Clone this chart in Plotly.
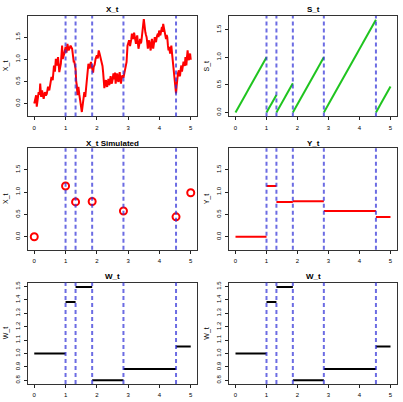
import plotly.graph_objects as go

# ---------------- data ----------------
tau = [1.0, 1.32, 1.85, 2.85, 4.53]          # jump times
t_end = 5.0

path_t = [0.00,0.03,0.06,0.08,0.11,0.14,0.17,0.19,0.22,0.25,0.27,0.30,0.34,0.37,0.40,0.44,0.48,0.51,0.55,0.59,
          0.63,0.66,0.69,0.72,0.76,0.80,0.85,0.89,0.91,0.96,1.00,1.03,1.06,1.10,1.13,1.16,1.21,1.23,1.26,1.28,
          1.30,1.32,1.34,1.36,1.38,1.41,1.44,1.47,1.50,1.52,1.56,1.60,1.63,1.66,1.68,1.71,1.73,1.77,1.81,1.85,
          1.88,1.90,1.93,1.96,2.00,2.03,2.06,2.09,2.11,2.15,2.18,2.20,2.22,2.24,2.26,2.29,2.31,2.33,2.37,2.39,
          2.41,2.44,2.46,2.48,2.50,2.53,2.55,2.58,2.60,2.64,2.67,2.69,2.71,2.73,2.75,2.77,2.80,2.82,2.85,2.88,
          2.90,2.93,2.95,2.98,3.01,3.03,3.06,3.08,3.10,3.12,3.14,3.16,3.19,3.21,3.23,3.25,3.27,3.29,3.31,3.33,
          3.36,3.38,3.40,3.42,3.44,3.46,3.48,3.50,3.52,3.55,3.57,3.59,3.61,3.63,3.65,3.67,3.70,3.72,3.74,3.76,
          3.78,3.80,3.83,3.85,3.87,3.89,3.92,3.95,3.97,3.99,4.01,4.03,4.06,4.08,4.10,4.12,4.14,4.17,4.19,4.21,
          4.23,4.25,4.27,4.29,4.31,4.34,4.36,4.38,4.40,4.42,4.45,4.47,4.49,4.51,4.53,4.55,4.57,4.59,4.62,4.64,
          4.66,4.68,4.70,4.72,4.74,4.77,4.79,4.81,4.83,4.85,4.86,4.88,4.90,4.92,4.94,4.96,4.98,5.00]
path_x = [0.00,0.12,0.19,-0.07,0.10,0.26,0.20,0.45,0.15,0.30,0.22,0.11,0.26,0.18,0.22,0.38,0.30,0.42,0.60,0.53,
          0.86,0.72,1.01,0.86,1.05,0.71,0.90,1.31,1.01,1.13,1.28,1.15,1.35,1.20,1.28,1.31,1.24,1.09,0.95,0.95,
          0.85,0.78,0.50,0.41,0.19,0.38,0.20,0.04,-0.10,-0.19,0.04,0.26,0.15,0.38,0.45,0.70,0.90,0.79,0.94,0.79,
          0.70,0.83,0.88,1.01,1.09,1.02,1.20,1.12,1.05,0.98,0.85,0.71,0.55,0.35,0.45,0.53,0.40,0.38,0.56,0.42,
          0.45,0.62,0.50,0.45,0.53,0.68,0.55,0.70,0.45,0.68,0.52,0.49,0.65,0.71,0.55,0.45,0.60,0.64,0.58,0.70,
          0.79,0.88,0.94,1.31,1.38,1.43,1.30,1.35,1.45,1.58,1.48,1.46,1.60,1.54,1.42,1.35,1.48,1.54,1.38,1.24,
          1.35,1.46,1.36,1.39,1.52,1.61,1.78,1.91,1.75,1.61,1.55,1.50,1.38,1.24,1.35,1.43,1.28,1.20,1.35,1.46,
          1.32,1.24,1.38,1.50,1.42,1.39,1.52,1.58,1.50,1.65,1.60,1.54,1.66,1.73,1.62,1.80,1.72,1.61,1.55,1.46,
          1.55,1.50,1.32,1.20,1.28,1.13,1.22,1.31,1.15,1.01,0.88,0.75,0.60,0.45,0.23,0.40,0.56,0.68,0.75,0.62,
          0.64,0.78,0.86,0.72,0.79,0.95,0.90,0.85,1.05,0.92,0.86,1.05,1.20,1.05,0.98,1.10,1.13,0.99]

# S_t: value reached at the end of each inter-jump interval
s_peak = [1.0, 0.32, 0.53, 1.0, 1.68, 0.47]

# simulated X at 0, jump times and end
sim_t = [0.0, 1.0, 1.32, 1.85, 2.85, 4.53, 5.0]
sim_x = [0.0, 1.136, 0.78, 0.79, 0.576, 0.447, 0.985]

# Y_t level on each interval
y_level = [0.0, 1.136, 0.78, 0.795, 0.576, 0.44]
# W_t level on each interval
w_level = [1.0, 1.384, 1.495, 0.80, 0.884, 1.052]

titles = ["X_t", "S_t", "X_t Simulated", "Y_t", "W_t", "W_t"]
ylabels = ["X_t", "S_t", "X_t", "Y_t", "W_t", "W_t"]

# ---------------- layout geometry ----------------
W, H = 403, 402
cols = [(28, 197), (229.3, 396.7)]
rows = [(14, 115), (147, 249), (282, 384)]
title_y = [7.3, 142.3, 276]

yranges = [[-0.29, 1.98], [-0.07, 1.75], [-0.29, 1.98], [-0.29, 1.98], [0.772, 1.528], [0.772, 1.528]]
ytickvals = [[0, 0.5, 1.0, 1.5]] * 4 + [[0.8, 0.9, 1.0, 1.1, 1.2, 1.3, 1.4, 1.5]] * 2

FONT = "Liberation Sans, Arial, sans-serif"
RED = "#ff0000"
GREEN = "#1fc41f"
BLUE = "rgba(45,45,215,0.7)"

fig = go.Figure()
layout = dict(width=W, height=H, margin=dict(l=0, r=0, t=0, b=0),
              paper_bgcolor="white", plot_bgcolor="white", showlegend=False,
              font=dict(family=FONT, color="black"))
annotations = []
shapes = []

intervals = list(zip([0.0] + tau, tau + [t_end]))

for i in range(6):
    r, c = divmod(i, 2)
    n = i + 1
    xa = "xaxis" if n == 1 else f"xaxis{n}"
    ya = "yaxis" if n == 1 else f"yaxis{n}"
    xr = "x" if n == 1 else f"x{n}"
    yr = "y" if n == 1 else f"y{n}"
    x0p, x1p = cols[c]
    y0p, y1p = rows[r]
    layout[xa] = dict(domain=[x0p / W, x1p / W], anchor=yr, range=[-0.2, 5.2],
                      tickvals=[0, 1, 2, 3, 4, 5], ticks="outside", ticklen=3, tickwidth=1,
                      tickcolor="#222", showline=True, mirror=True, linecolor="#333", linewidth=1,
                      showgrid=False, zeroline=False, tickfont=dict(size=6, family=FONT),
                      ticklabelstandoff=2)
    layout[ya] = dict(domain=[1 - y1p / H, 1 - y0p / H], anchor=xr, range=yranges[i],
                      tickvals=ytickvals[i], tickformat=".1f", ticks="outside", ticklen=3, tickwidth=1,
                      tickcolor="#222", showline=True, mirror=True, linecolor="#333", linewidth=1,
                      showgrid=False, zeroline=False, tickfont=dict(size=6, family=FONT),
                      tickangle=-90, ticklabelstandoff=2)
    # main title
    annotations.append(dict(text=f"<b>{titles[i]}</b>", x=(x0p + x1p) / 2 / W, y=1 - title_y[r] / H,
                            xref="paper", yref="paper", showarrow=False, xanchor="center", yanchor="middle",
                            font=dict(size=8, family=FONT)))
    # y label
    annotations.append(dict(text=ylabels[i], x=(x0p - 22) / W, y=1 - (y0p + y1p) / 2 / H,
                            xref="paper", yref="paper", showarrow=False, xanchor="center", yanchor="middle",
                            textangle=-90, font=dict(size=7, family=FONT)))
    # jump-time lines
    for tj in tau:
        shapes.append(dict(type="line", xref=xr, yref=f"{yr} domain", x0=tj, x1=tj, y0=0, y1=1,
                           line=dict(color=BLUE, width=2, dash="4px,3px"), layer="above"))

    if i == 0:
        fig.add_trace(go.Scatter(x=path_t, y=path_x, mode="lines", xaxis=xr, yaxis=yr,
                                 line=dict(color=RED, width=2)))
    elif i == 1:
        for (a, b), pk in zip(intervals, s_peak):
            fig.add_trace(go.Scatter(x=[a, b], y=[0, pk], mode="lines", xaxis=xr, yaxis=yr,
                                     line=dict(color=GREEN, width=2)))
    elif i == 2:
        fig.add_trace(go.Scatter(x=sim_t, y=sim_x, mode="markers", xaxis=xr, yaxis=yr,
                                 marker=dict(symbol="circle-open", size=7, color=RED,
                                             line=dict(color=RED, width=2))))
    elif i == 3:
        for (a, b), lv in zip(intervals, y_level):
            fig.add_trace(go.Scatter(x=[a, b], y=[lv, lv], mode="lines", xaxis=xr, yaxis=yr,
                                     line=dict(color=RED, width=2)))
    else:
        for (a, b), lv in zip(intervals, w_level):
            fig.add_trace(go.Scatter(x=[a, b], y=[lv, lv], mode="lines", xaxis=xr, yaxis=yr,
                                     line=dict(color="black", width=2)))

layout["annotations"] = annotations
layout["shapes"] = shapes
fig.update_layout(**layout)
fig.write_html("out.html")
